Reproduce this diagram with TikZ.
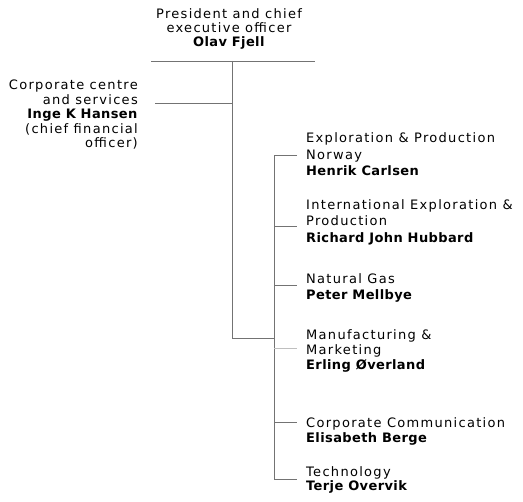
\documentclass[tikz,border=0pt]{standalone}
\usepackage{fontspec}
\setmainfont{DejaVu Sans}[LetterSpace=10, BoldFeatures={LetterSpace=3}]
\begin{document}
\begin{tikzpicture}[x=1pt,y=-1pt,
  role/.style={inner sep=0pt, font=\fontsize{13}{16.5}\selectfont, align=left, anchor=north west},
  link/.style={draw=black!55, line width=0.7pt}]
\useasboundingbox (0,0) rectangle (523,502);

% chief executive and corporate centre
\node[role, align=center, anchor=north, font=\fontsize{13}{14}\selectfont] (ceo) at (229,8)
  {President and chief\\executive officer\\\textbf{Olav Fjell}};
\node[role, align=right, anchor=north east, font=\fontsize{13}{14.5}\selectfont] (cfo) at (138,80)
  {Corporate centre\\and services\\\textbf{Inge K Hansen}\\(chief financial\\officer)};

% business areas and staff functions
\node[role] (ep)   at (306,132.8) {Exploration \& Production\\Norway\\\textbf{Henrik Carlsen}};
\node[role] (iep)  at (306,199.4) {International Exploration \&\\Production\\\textbf{Richard John Hubbard}};
\node[role] (gas)  at (306,273.4) {Natural Gas\\\textbf{Peter Mellbye}};
\node[role, font=\fontsize{13}{15}\selectfont] (mm) at (306,329.4) {Manufacturing \&\\Marketing\\\textbf{Erling Øverland}};
\node[role, font=\fontsize{13}{15.5}\selectfont] (comm) at (306,417.3) {Corporate Communication\\\textbf{Elisabeth Berge}};
\node[role, font=\fontsize{13}{14}\selectfont] (tech) at (306,466.6) {Technology\\\textbf{Terje Overvik}};

% junction points of the tree
\coordinate (barL) at (151,61);
\coordinate (barR) at (315,61);
\coordinate (trunkTop) at (232,61);
\coordinate (cfoJoin) at (232,103);
\coordinate (cfoEnd) at (155,103);
\coordinate (trunkBot) at (232,338);
\coordinate (spineTop) at (274,155);
\coordinate (spineMid) at (274,338);
\coordinate (spineBot) at (274,479);
\coordinate (epEnd) at (297,155);
\coordinate (iepJoin) at (274,226.5);
\coordinate (iepEnd) at (297,226.5);
\coordinate (gasJoin) at (274,285);
\coordinate (gasEnd) at (297,285);
\coordinate (mmJoin) at (274,348);
\coordinate (mmEnd) at (297,348);
\coordinate (commJoin) at (274,422);
\coordinate (commEnd) at (297,422);
\coordinate (techEnd) at (297,479);

% connectors
\draw[link] (barL) -- (barR);
\draw[link] (trunkTop) -- (trunkBot) -- (spineMid);
\draw[link] (cfoEnd) -- (cfoJoin);
\draw[link] (epEnd) -- (spineTop) -- (spineBot) -- (techEnd);
\draw[link] (iepJoin) -- (iepEnd);
\draw[link] (gasJoin) -- (gasEnd);
\draw[link, draw=black!25] (mmJoin) -- (mmEnd);
\draw[link] (commJoin) -- (commEnd);
\end{tikzpicture}
\end{document}
